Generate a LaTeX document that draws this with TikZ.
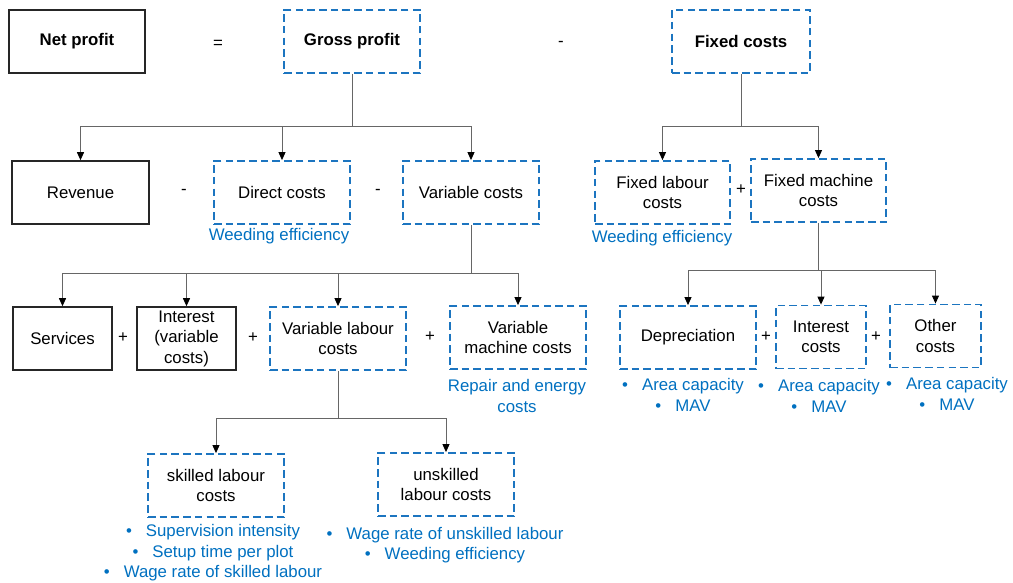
\documentclass[tikz,border=0pt]{standalone}
\usepackage{fontspec}
\setmainfont{Liberation Sans}
\usetikzlibrary{arrows.meta}
\definecolor{notecol}{RGB}{0,112,192}
\definecolor{edgecol}{RGB}{28,117,192}
\newcommand\bodysize{\fontsize{16.8}{20.5}\selectfont}
\begin{document}
\begin{tikzpicture}[x=1pt,y=-1pt,font=\bodysize,
  solidbox/.style={draw=black!85,line width=1.6pt,align=center,inner sep=0pt,minimum width=#1},
  solidbox/.default=136pt,
  dashbox/.style={draw=edgecol,line width=1.8pt,dash pattern=on 7.5pt off 4.2pt,align=center,inner sep=0pt,minimum width=#1},
  dashbox/.default=136pt,
  headfont/.style={font=\bodysize\bfseries},
  note/.style={text=notecol,align=center,inner sep=0pt},
  op/.style={inner sep=0pt},
  link/.style={draw=black!60,line width=0.9pt},
  arr/.style={link,-{Triangle[length=8pt,width=7pt,fill=black,color=black]}}
]
\path[use as bounding box] (0,0) rectangle (1013,583);
\tikzset{every node/.append style={minimum height=63pt}}

% top row
\node[solidbox,headfont] (net) at (77,41.5) {Net profit};
\node[op,minimum height=0pt] (eq) at (218,44) {=};
\node[dashbox,headfont] (gross) at (352,41.5) {Gross profit};
\node[op,minimum height=0pt] (m0) at (561,44) {-};
\node[dashbox=138pt,headfont] (fixed) at (741,41.5) {Fixed costs};

% gross profit components
\node[solidbox=137pt] (rev) at (80.5,192.5) {Revenue};
\node[op,minimum height=0pt] (m1) at (184,192) {-};
\node[dashbox] (direct) at (282,192.5) {Direct costs};
\node[note,minimum height=0pt] (n1) at (279,236) {Weeding efficiency};
\node[op,minimum height=0pt] (m2) at (378,192) {-};
\node[dashbox] (var) at (471,192.5) {Variable costs};

% fixed cost components
\node[dashbox=135pt] (flab) at (662.5,192.5) {Fixed labour\\costs};
\node[note,minimum height=0pt] (n2) at (662,238) {Weeding efficiency};
\node[op,minimum height=0pt] (p1) at (741,190) {+};
\node[dashbox=135pt] (fmach) at (818.5,190.5) {Fixed machine\\costs};

% variable cost components
\node[solidbox=99pt] (serv) at (62.5,338.5) {Services};
\node[op,minimum height=0pt] (p2) at (123,338) {+};
\node[solidbox=99pt] (intv) at (186.5,338.5) {Interest\\(variable\\costs)};
\node[op,minimum height=0pt] (p3) at (253,338) {+};
\node[dashbox] (vlab) at (338,338.5) {Variable labour\\costs};
\node[op,minimum height=0pt] (p4) at (430,337) {+};
\node[dashbox] (vmach) at (518,337.5) {Variable\\machine costs};
\node[note,minimum height=0pt] (n3) at (517,396) {Repair and energy\\costs};

% fixed machine cost components
\node[dashbox] (dep) at (688,337.5) {Depreciation};
\node[op,minimum height=0pt] (p5) at (766,337) {+};
\node[dashbox=90pt] (icost) at (821,337) {Interest\\costs};
\node[op,minimum height=0pt] (p6) at (876,337) {+};
\node[dashbox=91pt] (other) at (935.5,336) {Other\\costs};
\node[note,minimum height=0pt] (n4) at (683,395) {\textbullet\hspace{14pt}Area capacity\\\textbullet\hspace{14pt}MAV};
\node[note,minimum height=0pt] (n5) at (819,396) {\textbullet\hspace{14pt}Area capacity\\\textbullet\hspace{14pt}MAV};
\node[note,minimum height=0pt] (n6) at (947,394) {\textbullet\hspace{14pt}Area capacity\\\textbullet\hspace{14pt}MAV};

% labour cost split
\node[dashbox] (skill) at (216,485.5) {skilled labour\\costs};
\node[dashbox] (unskill) at (446,484.5) {unskilled\\labour costs};
\node[note,minimum height=0pt] (n7) at (213,553) {\textbullet\hspace{14pt}Supervision intensity\\\textbullet\hspace{14pt}Setup time per plot\\\textbullet\hspace{14pt}Wage rate of skilled labour};
\node[note,minimum height=0pt] (n8) at (445,545) {\textbullet\hspace{14pt}Wage rate of unskilled labour\\\textbullet\hspace{14pt}Weeding efficiency};

% connectors
\draw[link] (gross.south) -- (gross.south |- 0,126) coordinate (j1);
\draw[arr] (j1) -| (rev.north);
\draw[arr] (j1) -| (direct.north);
\draw[arr] (j1) -| (var.north);

\draw[link] (fixed.south) -- (fixed.south |- 0,126) coordinate (j2);
\draw[arr] (j2) -| (flab.north);
\draw[arr] (j2) -| (fmach.north);

\draw[link] (var.south) -- (var.south |- 0,273) coordinate (j3);
\draw[arr] (j3) -| (serv.north);
\draw[arr] (j3) -| (intv.north);
\draw[arr] (j3) -| (vlab.north);
\draw[arr] (j3) -| (vmach.north);

\draw[link] (fmach.south) -- (fmach.south |- 0,270) coordinate (j4);
\draw[arr] (j4) -| (dep.north);
\draw[arr] (j4) -| (icost.north);
\draw[arr] (j4) -| (other.north);

\draw[link] (vlab.south) -- (vlab.south |- 0,418) coordinate (j5);
\draw[arr] (j5) -| (skill.north);
\draw[arr] (j5) -| (unskill.north);
\end{tikzpicture}
\end{document}
